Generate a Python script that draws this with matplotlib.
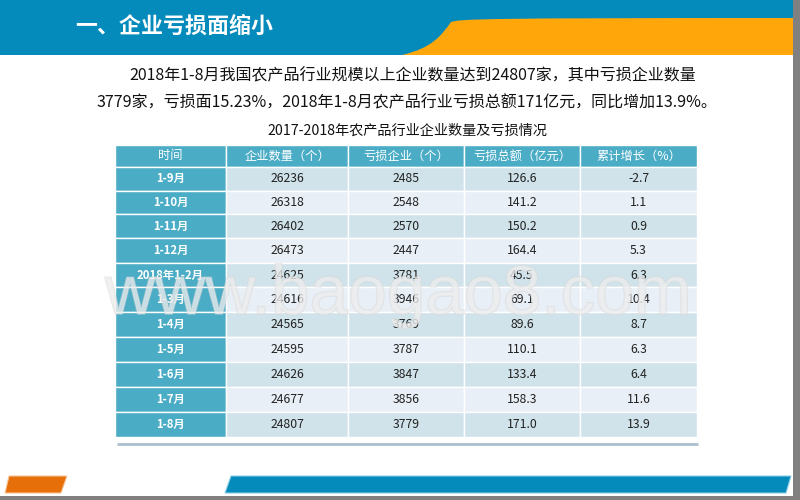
import matplotlib
matplotlib.use("Agg")
import matplotlib.pyplot as plt
from matplotlib.patches import Rectangle, Polygon, PathPatch
from matplotlib.path import Path
import matplotlib.patheffects as pe

plt.rcParams['font.family'] = ['Noto Sans CJK SC', 'DejaVu Sans']

title_text = "一、企业亏损面缩小"
para_1 = "2018年1-8月我国农产品行业规模以上企业数量达到24807家，其中亏损企业数量"
para_2 = "3779家，亏损面15.23%，2018年1-8月农产品行业亏损总额171亿元，同比增加13.9%。"
table_title = "2017-2018年农产品行业企业数量及亏损情况"
watermark = "www.baogao8.com"

headers = ["时间", "企业数量（个）", "亏损企业（个）", "亏损总额（亿元）", "累计增长（%）"]
periods = ["1-9月", "1-10月", "1-11月", "1-12月", "2018年1-2月", "1-3月",
           "1-4月", "1-5月", "1-6月", "1-7月", "1-8月"]
firms = ["26236", "26318", "26402", "26473", "24625", "24616",
         "24565", "24595", "24626", "24677", "24807"]
loss_firms = ["2485", "2548", "2570", "2447", "3781", "3946",
              "3769", "3787", "3847", "3856", "3779"]
loss_total = ["126.6", "141.2", "150.2", "164.4", "45.5", "69.1",
              "89.6", "110.1", "133.4", "158.3", "171.0"]
growth = ["-2.7", "1.1", "0.9", "5.3", "6.3", "10.4",
          "8.7", "6.3", "6.4", "11.6", "13.9"]

BLUE = "#048BBC"
ORANGE = "#FFA70A"
TEAL = "#4BACC6"
ROW_A = "#D0E3EA"
ROW_B = "#E9EFF6"

W, H = 800, 500
fig = plt.figure(figsize=(8, 5), dpi=100, facecolor="white")
ax = fig.add_axes([0, 0, 1, 1])
ax.set_xlim(0, W)
ax.set_ylim(H, 0)
ax.axis("off")

# Header band
ax.add_patch(Rectangle((0, 0), 793, 55, fc=BLUE, ec="none", zorder=1))
curve = Path(
    [(402, 55), (432, 48), (441, 36), (451, 22), (460, 19), (480, 18), (793, 18), (793, 55), (402, 55)],
    [Path.MOVETO, Path.CURVE4, Path.CURVE4, Path.CURVE4, Path.CURVE4, Path.CURVE4,
     Path.LINETO, Path.LINETO, Path.CLOSEPOLY])
ax.add_patch(PathPatch(curve, fc=ORANGE, ec="none", zorder=2))
ax.text(75, 26.5, title_text, color="white", fontsize=15.8, va="center", ha="left", weight="bold", zorder=3)

# Paragraph
ax.text(129, 76, para_1, color="#111111", fontsize=11.53, va="center", ha="left")
ax.text(97, 103, para_2, color="#111111", fontsize=11.53, va="center", ha="left")
ax.text(407.5, 130.5, table_title, color="#111111", fontsize=10.2, va="center", ha="center")

# Table
rows = list(zip(periods, firms, loss_firms, loss_total, growth))
col_w = [111, 122, 116, 116, 117]
row_h = [22, 24, 23.5, 24, 24.5, 24.8, 25, 25, 25, 25, 25, 25]
x0, x1, y0, y1 = 115, 697, 145, 437
tbl = ax.table(cellText=rows, colLabels=headers, colWidths=[c / 582 for c in col_w],
               bbox=[x0 / W, 1 - y1 / H, (x1 - x0) / W, (y1 - y0) / H], cellLoc="center")
tbl.auto_set_font_size(False)
tbl.set_fontsize(8.8)
for (r, c), cell in tbl.get_celld().items():
    cell.set_edgecolor("white")
    cell.set_linewidth(1)
    cell.set_height(row_h[r])
    txt = cell.get_text()
    txt.set_va("center")
    if r == 0:
        cell.set_facecolor(TEAL)
        txt.set_color("white")
    elif c == 0:
        cell.set_facecolor(TEAL)
        txt.set_color("white")
        txt.set_fontweight("bold")
        txt.set_fontsize(8.2)
    else:
        cell.set_facecolor(ROW_A if r % 2 else ROW_B)
        txt.set_color("#222222")

# Rule under table
ax.plot([117, 698], [444, 444], color="#ACBFD0", lw=2, solid_capstyle="butt", zorder=3)

# Watermark
ax.text(105, 314, watermark, fontsize=50, family="Liberation Sans", color="#EDEDED", alpha=0.6,
        ha="left", va="baseline", zorder=6,
        path_effects=[pe.withStroke(linewidth=1.2, foreground="#D5D5D5", alpha=0.45)])

# Footer shapes
ax.add_patch(Polygon([(9, 476), (67, 476), (61, 493), (5, 493)], closed=True, fc="#E66F0A", ec="#F7C79A", lw=0.8, zorder=2))
ax.add_patch(Polygon([(231, 476), (791, 476), (786, 493), (225, 493)], closed=True, fc=BLUE, ec="#8CCDE6", lw=0.8, zorder=2))

# Slide edge
ax.add_patch(Rectangle((793, 0), 7, 500, fc="#808080", ec="none", zorder=8))
ax.add_patch(Rectangle((0, 496), 800, 4, fc="#808080", ec="none", zorder=8))

fig.savefig("out.png", dpi=100)
